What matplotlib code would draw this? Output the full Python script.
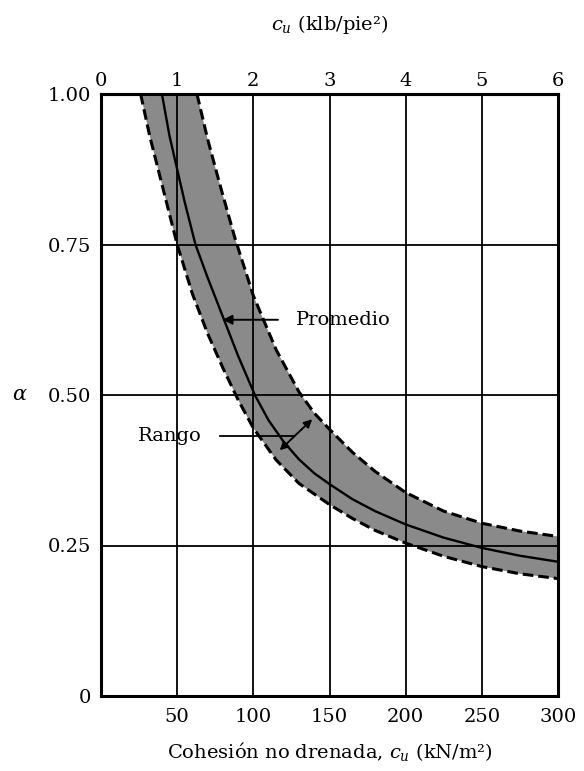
import matplotlib
matplotlib.use("Agg")
import matplotlib.pyplot as plt

plt.rcParams['font.family'] = ['DejaVu Serif', 'Liberation Serif']
plt.rcParams['mathtext.fontset'] = 'dejavuserif'

# Data (cu in kN/m^2, alpha)
mean_cu = [40, 45, 50, 55, 62, 70, 80, 90, 101, 110, 120, 130, 140, 150, 165, 180, 200, 225, 250, 275, 300]
mean_alpha = [1.00, 0.93, 0.875, 0.82, 0.75, 0.695, 0.63, 0.565, 0.50, 0.458, 0.422, 0.393, 0.37, 0.352,
              0.327, 0.307, 0.285, 0.263, 0.246, 0.233, 0.223]

upper_cu = [63, 70, 78, 88, 100, 115, 130, 140, 150, 165, 180, 200, 225, 250, 275, 300]
upper_alpha = [1.00, 0.925, 0.85, 0.76, 0.665, 0.575, 0.505, 0.47, 0.443, 0.405, 0.373, 0.338, 0.307,
               0.287, 0.274, 0.265]

lower_cu = [26, 32, 40, 50, 60, 70, 80, 90, 100, 115, 130, 150, 165, 180, 200, 225, 250, 275, 300]
lower_alpha = [1.00, 0.93, 0.85, 0.75, 0.668, 0.602, 0.545, 0.492, 0.445, 0.392, 0.353, 0.318, 0.295,
               0.275, 0.254, 0.232, 0.215, 0.203, 0.195]

x_ticks = [50, 100, 150, 200, 250, 300]
y_ticks = [0, 0.25, 0.50, 0.75, 1.00]
y_tick_labels = ['0', '0.25', '0.50', '0.75', '1.00']
top_ticks = [0, 1, 2, 3, 4, 5, 6]

fig = plt.figure(figsize=(5.84, 7.71), dpi=100)
ax = fig.add_axes([101/584, 1 - 696/771, (558-101)/584, (696-94)/771])

# band
poly_x = upper_cu + lower_cu[::-1]
poly_y = upper_alpha + lower_alpha[::-1]
ax.fill(poly_x, poly_y, facecolor='#8a8a8a', edgecolor='none', zorder=1)
ax.plot(upper_cu, upper_alpha, color='black', lw=2.2, ls=(0, (3.5, 1.6)), zorder=3)
ax.plot(lower_cu, lower_alpha, color='black', lw=2.2, ls=(0, (3.5, 1.6)), zorder=3)
ax.plot(mean_cu, mean_alpha, color='black', lw=1.7, zorder=3)

ax.set_xlim(0, 300)
ax.set_ylim(0, 1.0)
for xv in x_ticks[:-1]:
    ax.axvline(xv, color='black', lw=1.3, zorder=2)
for yv in y_ticks[1:-1]:
    ax.axhline(yv, color='black', lw=1.3, zorder=2)

for s in ax.spines.values():
    s.set_linewidth(2.2)

ax.set_xticks(x_ticks)
ax.set_xticklabels([str(v) for v in x_ticks], fontsize=14)
ax.set_yticks(y_ticks)
ax.set_yticklabels(y_tick_labels, fontsize=14)
ax.tick_params(axis='both', length=0)
ax.tick_params(axis='x', pad=9)
ax.tick_params(axis='y', pad=7)

sec = ax.secondary_xaxis('top', functions=(lambda x: x / 50.0, lambda x: x * 50.0))
sec.set_xticks(top_ticks)
sec.set_xticklabels([str(v) for v in top_ticks], fontsize=14)
sec.tick_params(length=0, pad=3)
sec.spines['top'].set_linewidth(2.2)

ax.set_xlabel('Cohesión no drenada, $c_u$ (kN/m²)', fontsize=14, labelpad=10)
sec.set_xlabel('$c_u$ (klb/pie²)', fontsize=14, labelpad=30)
ax.set_ylabel(r'$\alpha$', fontsize=15, rotation=0, labelpad=20, va='center')

# annotations
ax.annotate('', xy=(78, 0.625), xytext=(118, 0.625),
            arrowprops=dict(arrowstyle='-|>', color='black', lw=1.4,
                            mutation_scale=14), zorder=4)
ax.text(128, 0.625, 'Promedio', fontsize=14, va='center', ha='left')

ax.text(24, 0.432, 'Rango', fontsize=14, va='center', ha='left')
ax.plot([78, 127], [0.432, 0.432], color='black', lw=1.3, zorder=4)
ax.annotate('', xy=(116, 0.405), xytext=(140, 0.463),
            arrowprops=dict(arrowstyle='<|-|>', color='black', lw=1.4,
                            mutation_scale=12), zorder=4)

fig.savefig('out.png', dpi=100)
